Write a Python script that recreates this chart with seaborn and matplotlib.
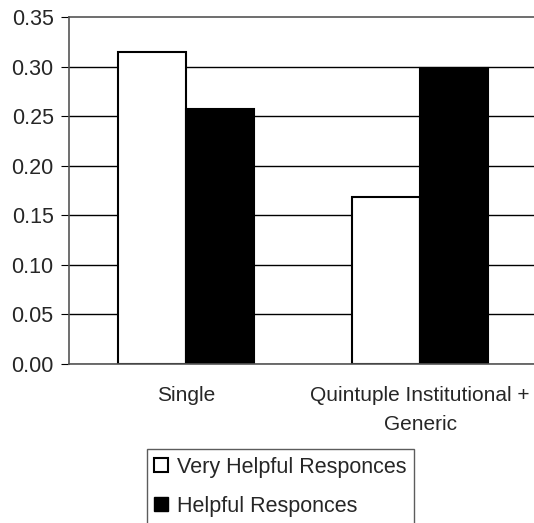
import numpy as np
import pandas as pd
import matplotlib
matplotlib.use("Agg")
import matplotlib.pyplot as plt
import seaborn as sns
from matplotlib.lines import Line2D

categories = ["Single", "Quintuple Institutional +\nGeneric"]
series = ["Very Helpful Responces", "Helpful Responces"]
very_helpful = [0.315, 0.168]
helpful = [0.257, 0.299]
y_ticks = [0.00, 0.05, 0.10, 0.15, 0.20, 0.25, 0.30, 0.35]

df = pd.DataFrame({
    "category": categories * 2,
    "series": [series[0]] * 2 + [series[1]] * 2,
    "value": very_helpful + helpful,
})

sns.set_style("white")
plt.rcParams["font.family"] = ["Liberation Sans", "DejaVu Sans"]

fig = plt.figure(figsize=(5.34, 5.23), dpi=100)
ax = fig.add_axes([69 / 534, 1 - 364 / 523, 468 / 534, 347 / 523])

sns.barplot(data=df, x="category", y="value", hue="series",
            palette={series[0]: "white", series[1]: "black"},
            edgecolor="black", linewidth=1.5, width=0.58,
            order=categories, hue_order=series, legend=False, ax=ax)

ax.set_xlim(-0.5, 1.5)
ax.set_ylim(0, 0.35)
ax.set_yticks(y_ticks)
ax.set_yticklabels([f"{v:.2f}" for v in y_ticks], fontsize=15.5)
ax.set_xticks([0, 1])
ax.set_xticklabels(categories, fontsize=15, linespacing=1.65)
ax.tick_params(axis="x", length=0, pad=16)
ax.set_xticks([-0.5, 0.5, 1.5], minor=True)
ax.tick_params(axis="x", which="minor", length=5, color="gray", direction="out")
ax.tick_params(axis="y", length=6, color="black", direction="out", pad=5, left=True)
ax.set_xlabel("")
ax.set_ylabel("")

ax.yaxis.grid(True, color="black", linewidth=1)
ax.set_axisbelow(True)
ax.get_ygridlines()[-1].set_visible(False)

for s in ["left", "bottom", "top"]:
    ax.spines[s].set_visible(True)
    ax.spines[s].set_linestyle((0, (1, 1)))
    ax.spines[s].set_color("#555555")
    ax.spines[s].set_linewidth(1.2)
ax.spines["right"].set_visible(False)

handles = [
    Line2D([], [], marker="s", linestyle="none", markersize=9.5,
           markerfacecolor="white", markeredgecolor="black", markeredgewidth=1.5),
    Line2D([], [], marker="s", linestyle="none", markersize=9.5,
           markerfacecolor="black", markeredgecolor="black"),
]
leg = fig.legend(handles, series, loc="upper left",
                 bbox_to_anchor=(147 / 534, 1 - 449 / 523),
                 fontsize=15.5, frameon=True, fancybox=False,
                 edgecolor="#333333", handlelength=0.6, handletextpad=0.45,
                 labelspacing=0.85, borderpad=0.35, borderaxespad=0)
leg.get_frame().set_linewidth(1)

fig.savefig("out.png", dpi=100)
